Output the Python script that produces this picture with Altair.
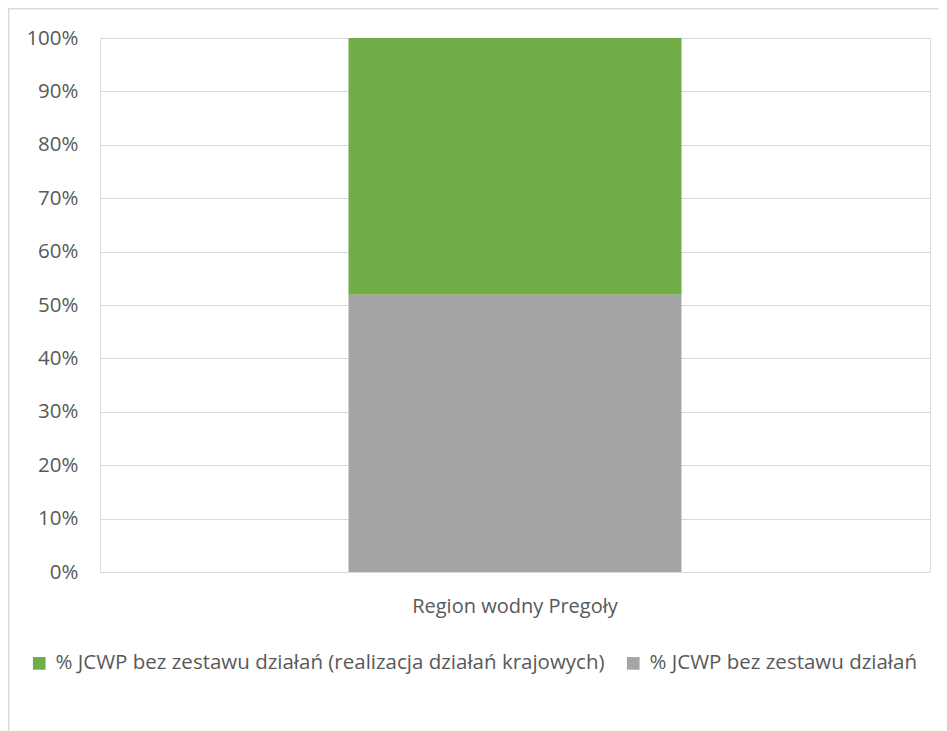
import altair as alt
import pandas as pd

categories = ["Region wodny Pregoły"]
series = [
    "% JCWP bez zestawu działań (realizacja działań krajowych)",
    "% JCWP bez zestawu działań",
]
values = [48.1, 51.9]
stack_order = [2, 1]
colors = ["#70ad47", "#a5a5a5"]

df = pd.DataFrame({
    "category": categories * len(series),
    "series": series,
    "value": values,
    "order": stack_order,
})

FONT = "Open Sans"

bars = alt.Chart(df).mark_bar(size=333).encode(
    x=alt.X("category:N", title=None,
            axis=alt.Axis(labelAngle=0, labelFontSize=20, labelColor="#595959",
                          labelFont=FONT, domain=False, ticks=False, labelPadding=24,
                          labelLimit=600)),
    y=alt.Y("value:Q", stack="normalize", title=None,
            scale=alt.Scale(domain=[0, 1]),
            axis=alt.Axis(format=".0%", values=[i / 10 for i in range(11)],
                          labelFontSize=20.5, labelColor="#595959", labelFont=FONT,
                          domain=False, ticks=False, labelPadding=22,
                          gridColor="#d9d9d9", gridWidth=1.2)),
    color=alt.Color("series:N", scale=alt.Scale(domain=series, range=colors),
                    legend=alt.Legend(title=None, orient="none", legendX=-71, legendY=615,
                                      direction="horizontal", columns=2, columnPadding=18,
                                      symbolType="square", symbolSize=160, symbolStrokeWidth=0,
                                      labelOffset=6,
                                      labelFontSize=20.5, labelColor="#595959", labelFont=FONT,
                                      labelLimit=800)),
    order=alt.Order("order:Q"),
)

frame = alt.Chart(df).mark_rect(fill=None, stroke="#d9d9d9", strokeWidth=1.5, clip=False).encode(
    x=alt.value(-91.5), x2=alt.value(1200), y=alt.value(-29.5), y2=alt.value(1200)
)

chart = alt.layer(frame, bars).properties(
    width=830, height=534,
    padding={"left": 92, "top": 30, "right": 9, "bottom": 159},
    autosize=alt.AutoSizeParams(type="none"),
).configure_view(stroke=None).configure(background="white")

chart.save("out.html", embed_options={"renderer": "svg", "actions": False})
